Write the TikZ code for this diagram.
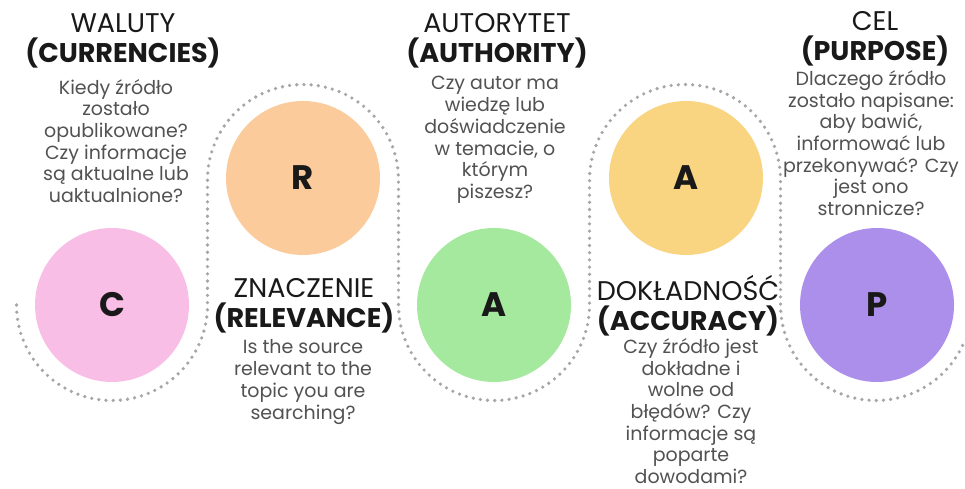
\documentclass[tikz,border=0pt]{standalone}
\usepackage{fontspec}
\setmainfont{Poppins}
\usetikzlibrary{positioning}

\definecolor{cpink}{HTML}{F9BEE6}
\definecolor{rpeach}{HTML}{FBCB9B}
\definecolor{agreen}{HTML}{A5E99E}
\definecolor{ayellow}{HTML}{F9D582}
\definecolor{ppurple}{HTML}{AC8EEB}

\begin{document}
\begin{tikzpicture}[x=1pt, y=1pt,
    letter/.style={circle, minimum size=154pt, inner sep=0pt,
        font=\fontsize{34}{34}\selectfont\bfseries, text=black!90},
    head/.style={align=center, inner sep=0pt, font=\fontsize{27}{30}\selectfont, text=black!90},
    body/.style={align=center, inner sep=0pt, font=\fontsize{19}{21.7}\selectfont, text=black!68},
    dots/.style={draw=black!35, line width=3.6pt, line cap=round,
        dash pattern=on 0pt off 7.2pt}]

\useasboundingbox[fill=white] (0,0) rectangle (965,489);

% ===============================================================
% Dotted snake around the five circles
% ===============================================================
\def\lowY{184}
\def\upY{309}
\def\rad{95.5}

\begin{scope}
\clip (0,0) rectangle (965,489);
\draw[dots]
    (16.5,\lowY) arc[start angle=180, end angle=360, radius=\rad]
        -- (207.5,\upY) arc[start angle=180, end angle=0, radius=\rad]
        -- (398.5,\lowY) arc[start angle=180, end angle=360, radius=\rad]
        -- (589.5,\upY) arc[start angle=180, end angle=0, radius=\rad]
        -- (780.5,\lowY) arc[start angle=180, end angle=335, radius=\rad];
\end{scope}

% ===============================================================
% Circles
% ===============================================================
\node[letter, fill=cpink]   (cur) at (112,184) {C};
\node[letter, fill=rpeach]  (rel) at (303,311) {R};
\node[letter, fill=agreen]  (aut) at (494,184) {A};
\node[letter, fill=ayellow] (acc) at (686,311) {A};
\node[letter, fill=ppurple] (pur) at (877,184) {P};

% ===============================================================
% Headings
% ===============================================================
\node[head] (curhead) at (123,448) {WALUTY\\\textbf{(CURRENCIES)}};
\node[head] (relhead) at (304,183) {ZNACZENIE\\\textbf{(RELEVANCE)}};
\node[head] (authead) at (497,448) {AUTORYTET\\\textbf{(AUTHORITY)}};
\node[head] (acchead) at (688,183) {DOKŁADNOŚĆ\\\textbf{(ACCURACY)}};
\node[head] (purhead) at (875,450) {CEL\\\textbf{(PURPOSE)}};

% ===============================================================
% Questions
% ===============================================================
\node[body] (curtext) at (116,348) {Kiedy źródło\\zostało\\opublikowane?\\Czy informacje\\są aktualne lub\\uaktualnione?};
\node[body] (reltext) at (303,107) {Is the source\\relevant to the\\topic you are\\searching?};
\node[body] (auttext) at (495,349) {Czy autor ma\\wiedzę lub\\doświadczenie\\w temacie, o\\którym\\piszesz?};
\node[body] (acctext) at (691,78) {Czy źródło jest\\dokładne i\\wolne od\\błędów? Czy\\informacje są\\poparte\\dowodami?};
\node[body] (purtext) at (871,346) {Dlaczego źródło\\zostało napisane:\\aby bawić,\\informować lub\\przekonywać? Czy\\jest ono\\stronnicze?};

\end{tikzpicture}
\end{document}
